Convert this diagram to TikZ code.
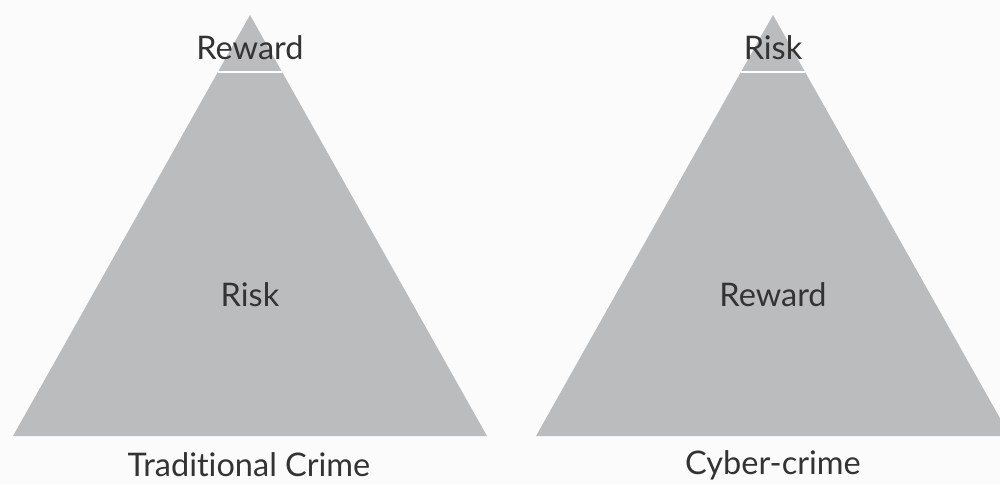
\documentclass[tikz,border=0pt]{standalone}
\usepackage{fontspec}
\setmainfont[Ligatures={NoCommon}]{Lato}
\definecolor{bg}{HTML}{FBFBFB}
\definecolor{tri}{HTML}{BBBCBE}
\definecolor{ink}{HTML}{333333}
\tikzset{
  tribox/.style={fill=tri, draw=none},
  sep/.style={draw=white, line width=2pt},
  lbl/.style={text=ink, font=\fontsize{32.5}{32.5}\selectfont, inner sep=0pt},
}
\begin{document}
\begin{tikzpicture}[x=1pt,y=-1pt]
\fill[bg] (0,0) rectangle (1000,484);
\useasboundingbox (0,0) rectangle (1000,484);
\begin{scope}
\clip (0,0) rectangle (1000,484);
\fill[tribox] (250,15) -- (487,436) -- (13,436) -- cycle;
\fill[tribox] (773,15) -- (1010,436) -- (536,436) -- cycle;
\end{scope}
\coordinate (l1) at (218,72); \coordinate (l2) at (282,72);
\coordinate (r1) at (741,72); \coordinate (r2) at (805,72);
\draw[sep] (l1) -- (l2);
\draw[sep] (r1) -- (r2);
\node[lbl] (trew) at (250,48) {Reward};
\node[lbl] (lrisk) at (250,295) {Risk};
\node[lbl] (trisk) at (773,48) {Risk};
\node[lbl] (rrew) at (773,295) {Reward};
\node[lbl] (trad) at (249,465) {Traditional Crime};
\node[lbl] (cyber) at (773,465) {Cyber-crime};
\end{tikzpicture}
\end{document}
